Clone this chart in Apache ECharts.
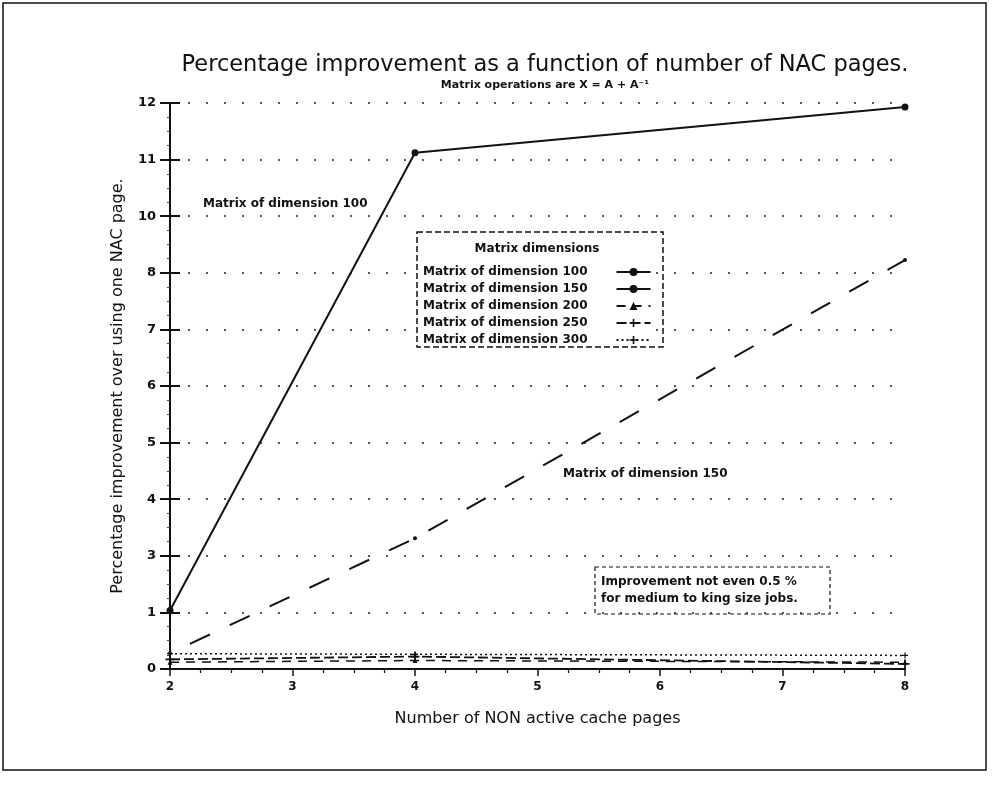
<!DOCTYPE html>
<html>
<head>
<meta charset="utf-8">
<script src="https://cdn.jsdelivr.net/npm/echarts@6/dist/echarts.min.js"></script>
<style>
  html, body { margin: 0; padding: 0; background: #fff; }
  #chart { width: 992px; height: 789px; }
</style>
</head>
<body>
<div id="chart"></div>
<script>
// Number of non-active cache pages
const pages = [2, 4, 8];
// Y tick labels, one per evenly spaced tick slot
const yTickLabels = [0, 1, 3, 4, 5, 6, 7, 8, 10, 11, 12];
// Percentage improvement for each matrix dimension
const dim100 = [1.07, 11.12, 11.93];
const dim150 = [0.28, 3.31, 8.45];
const dim200 = [0.12, 0.15, 0.12];
const dim250 = [0.17, 0.22, 0.09];
const dim300 = [0.27, 0.26, 0.24];
const seriesNames = [
  'Matrix of dimension 100',
  'Matrix of dimension 150',
  'Matrix of dimension 200',
  'Matrix of dimension 250',
  'Matrix of dimension 300'
];

const FONT = 'DejaVu Sans';
const INK = '#111';

// place a value on the tick-slot scale used by the y axis
function toSlot(v) {
  for (let i = 0; i < yTickLabels.length - 1; i++) {
    const a = yTickLabels[i], b = yTickLabels[i + 1];
    if (v <= b || i === yTickLabels.length - 2) {
      return i + (v - a) / (b - a);
    }
  }
  return 0;
}
function pts(values) {
  return pages.map((x, i) => [x, toSlot(values[i])]);
}

const plusPath = 'path://M4,0h2v4h4v2h-4v4h-2v-4h-4v-2h4z';

const chart = echarts.init(document.getElementById('chart'));
chart.setOption({
  animation: false,
  backgroundColor: '#fff',
  textStyle: { fontFamily: FONT, color: INK },
  title: {
    text: 'Percentage improvement as a function of number of NAC pages.',
    subtext: 'Matrix operations are X = A + A⁻¹',
    left: 540, top: 49, textAlign: 'center', itemGap: 3,
    textStyle: { fontFamily: FONT, fontSize: 22.5, fontWeight: 'normal', color: INK },
    subtextStyle: { fontFamily: FONT, fontSize: 11, fontWeight: 'bold', color: INK }
  },
  grid: { left: 170, right: 87, top: 103, bottom: 120 },
  legend: {
    orient: 'vertical', left: 417, top: 232, align: 'right',
    padding: [34, 2, 2, 6], backgroundColor: '#fff',
    itemWidth: 34, itemHeight: 10, itemGap: 5,
    data: [
      { name: seriesNames[0] },
      { name: seriesNames[1], lineStyle: { type: 'solid' } },
      { name: seriesNames[2] },
      { name: seriesNames[3] },
      { name: seriesNames[4] }
    ],
    textStyle: { fontFamily: FONT, fontSize: 12, fontWeight: 'bold', color: INK, padding: [0, 24, 0, 0] }
  },
  xAxis: [{
    type: 'value', min: 2, max: 8, interval: 1,
    name: 'Number of NON active cache pages', nameLocation: 'middle', nameGap: 42,
    nameTextStyle: { fontFamily: FONT, fontSize: 16, color: INK },
    axisLine: { lineStyle: { color: INK, width: 2 } },
    axisTick: { length: 7, lineStyle: { color: INK, width: 1.5 } },
    minorTick: { show: true, splitNumber: 4, length: 4, lineStyle: { color: INK, width: 1.2 } },
    axisLabel: { fontFamily: FONT, fontSize: 12, fontWeight: 'bold', color: INK, margin: 12 },
    splitLine: { show: false }
  }, {
    type: 'value', min: 2, max: 8, position: 'top',
    axisLine: { show: true, lineStyle: { color: INK, width: 2 } },
    axisTick: { show: false }, axisLabel: { show: false }, splitLine: { show: false }
  }],
  yAxis: [{
    type: 'value', min: 0, max: 10, interval: 1,
    name: 'Percentage improvement over using one NAC page.', nameLocation: 'middle', nameGap: 44,
    nameTextStyle: { fontFamily: FONT, fontSize: 16, color: INK },
    axisLine: { show: true, lineStyle: { color: INK, width: 2 } },
    axisTick: { show: true, length: 10, lineStyle: { color: INK, width: 2 } },
    minorTick: { show: true, splitNumber: 4, length: 3, lineStyle: { color: '#444', width: 1 } },
    axisLabel: {
      fontFamily: FONT, fontSize: 13, fontWeight: 'bold', color: INK, margin: 14,
      formatter: v => String(yTickLabels[Math.round(v)])
    },
    splitLine: { show: true, lineStyle: { color: '#222', width: 1.5, type: [2, 16] } }
  }, {
    type: 'value', min: 0, max: 10, interval: 1, position: 'left',
    axisLine: { show: false },
    axisTick: { show: true, inside: true, length: 10, lineStyle: { color: INK, width: 2 } },
    axisLabel: { show: false }, splitLine: { show: false }
  }],
  series: [{
    name: seriesNames[0], type: 'line', data: pts(dim100),
    symbol: 'circle', symbolSize: 7,
    lineStyle: { color: INK, width: 2 }, itemStyle: { color: INK }
  }, {
    name: seriesNames[1], type: 'line', data: pts(dim150),
    symbol: 'circle', symbolSize: 4,
    lineStyle: { color: INK, width: 2, type: [22, 22], dashOffset: 22 }, itemStyle: { color: INK }
  }, {
    name: seriesNames[2], type: 'line', data: pts(dim200),
    symbol: 'triangle', symbolSize: 5,
    lineStyle: { color: INK, width: 1.5, type: [9, 7] }, itemStyle: { color: INK }
  }, {
    name: seriesNames[3], type: 'line', data: pts(dim250),
    symbol: plusPath, symbolSize: 9,
    lineStyle: { color: INK, width: 1.8, type: [10, 4] }, itemStyle: { color: INK }
  }, {
    name: seriesNames[4], type: 'line', data: pts(dim300),
    symbol: plusPath, symbolSize: 6,
    lineStyle: { color: INK, width: 1.5, type: [2, 3] }, itemStyle: { color: INK }
  }],
  graphic: [
    { type: 'rect', shape: { x: 3, y: 3, width: 983, height: 767 },
      style: { fill: 'none', stroke: INK, lineWidth: 1.5 } },
    { type: 'rect', z: 10, shape: { x: 417, y: 232, width: 246, height: 115 },
      style: { fill: 'none', stroke: INK, lineWidth: 1.5, lineDash: [6, 3] } },
    { type: 'text', z: 10, x: 537, y: 249,
      style: { text: 'Matrix dimensions', fontFamily: FONT, fontSize: 12, fontWeight: 'bold',
               fill: INK, align: 'center', verticalAlign: 'middle' } },
    { type: 'text', x: 203, y: 204,
      style: { text: 'Matrix of dimension 100', fontFamily: FONT, fontSize: 12, fontWeight: 'bold',
               fill: INK, align: 'left', verticalAlign: 'middle' } },
    { type: 'text', x: 563, y: 474,
      style: { text: 'Matrix of dimension 150', fontFamily: FONT, fontSize: 12, fontWeight: 'bold',
               fill: INK, align: 'left', verticalAlign: 'middle' } },
    { type: 'rect', shape: { x: 595, y: 567, width: 235, height: 47 },
      style: { fill: 'none', stroke: INK, lineWidth: 1.2, lineDash: [4, 3] } },
    { type: 'text', x: 601, y: 582,
      style: { text: 'Improvement not even 0.5 %', fontFamily: FONT, fontSize: 12, fontWeight: 'bold',
               fill: INK, align: 'left', verticalAlign: 'middle' } },
    { type: 'text', x: 601, y: 599,
      style: { text: 'for medium to king size jobs.', fontFamily: FONT, fontSize: 12, fontWeight: 'bold',
               fill: INK, align: 'left', verticalAlign: 'middle' } }
  ]
});
</script>
</body>
</html>
